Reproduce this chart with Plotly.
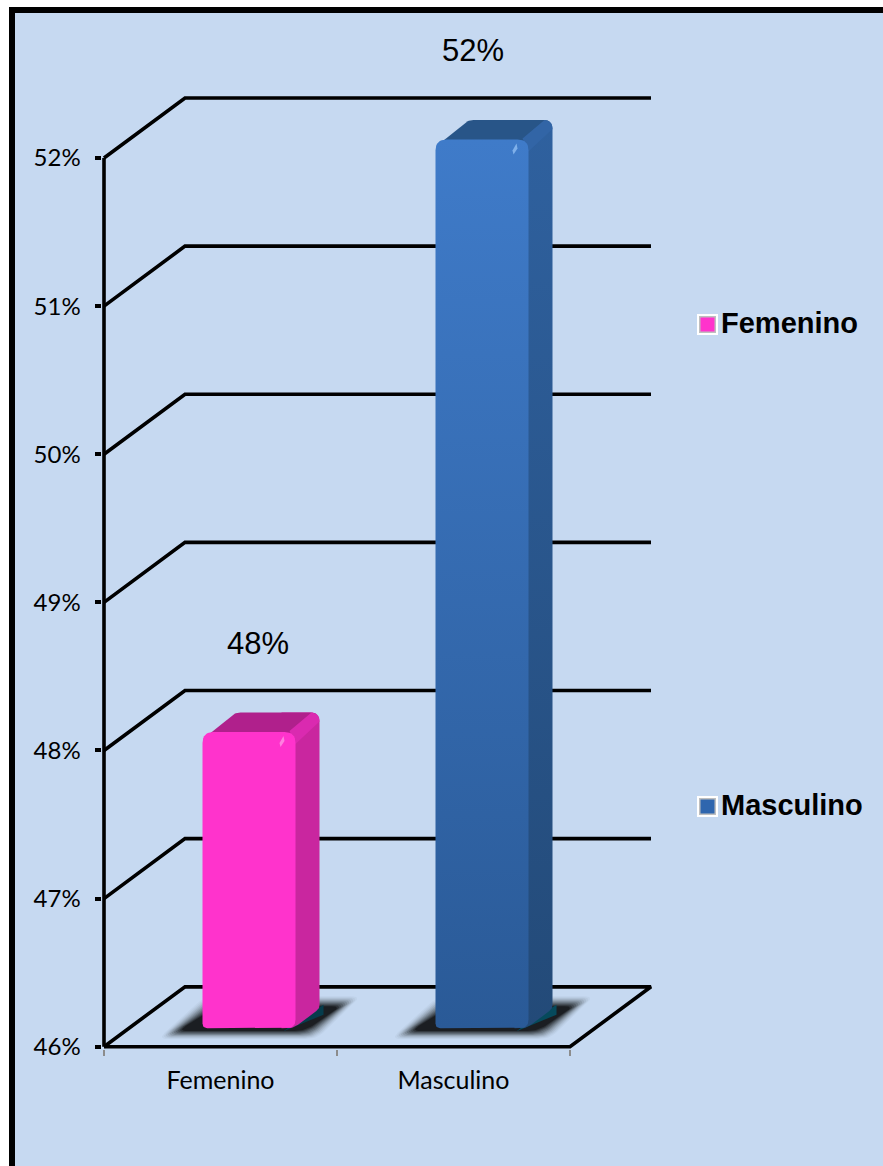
import plotly.graph_objects as go
import numpy as np

# ---------- data ----------
categories = ["Femenino", "Masculino"]
values = [48, 52]
value_labels = ["48%", "52%"]
y_ticks = [46, 47, 48, 49, 50, 51, 52]
y_tick_labels = ["46%", "47%", "48%", "49%", "50%", "51%", "52%"]

# ---------- geometry (pixels on the page) ----------
W, H = 883, 1166
X0, X2 = 104.0, 570.0        # front plane left / right
Y46, Y52 = 1046.7, 158.0     # front plane bottom / top
DEPTH_X, DEPTH_Y = 81.0, 60.0
BAR_DX, BAR_DY = 28.5, 18.5  # front face offset of a bar from the front plane
BAR_W = 93.0
SIDE_X, SIDE_Y = 24.0, 19.5
RADIUS = 11.0
LABEL_DX = [37.0, 19.5]
LABEL_DY = 107.0

PX_PER_CAT = (X2 - X0) / 2
PX_PER_PCT = (Y46 - Y52) / 6
ux = 1 / PX_PER_CAT   # one pixel, in axis units
uy = 1 / PX_PER_PCT
dx = DEPTH_X * ux
dy = DEPTH_Y * uy

# plot area is larger than the chart box, so thick lines are not clipped
PLOT_L, PLOT_R, PLOT_T, PLOT_B = 101.5, 660.0, 20.0, 1049.2
x_low, x_high = -0.5 - (X0 - PLOT_L) * ux, -0.5 + (PLOT_R - X0) * ux
y_low, y_high = 46 - (PLOT_B - Y46) * uy, 46 + (Y46 - PLOT_T) * uy

BG = "#C6D9F1"
INK = "#000000"


def rounded(pts, radii):
    """Polygon with rounded corners. Points are in pixels relative to an anchor."""
    out = []
    n = len(pts)
    for i, p in enumerate(pts):
        p = np.array(p, float)
        r = radii[i]
        a = np.array(pts[i - 1], float)
        b = np.array(pts[(i + 1) % n], float)
        if r <= 0:
            out.append(p)
            continue
        va = (a - p) / np.linalg.norm(a - p)
        vb = (b - p) / np.linalg.norm(b - p)
        s, e = p + va * r, p + vb * r
        for t in np.linspace(0, 1, 9):
            out.append((1 - t) ** 2 * s + 2 * t * (1 - t) * p + t ** 2 * e)
    out.append(out[0])
    return np.array(out)


def poly(cx, val, pts, radii=None):
    """pts are pixel offsets (x right, y up) from the front-plane position of (cx, val)."""
    radii = radii or [0] * len(pts)
    q = rounded(pts, radii)
    return cx + q[:, 0] * ux, val + q[:, 1] * uy


fig = go.Figure()


def line(xs, ys, width=3.6, color=INK):
    fig.add_trace(go.Scatter(x=xs, y=ys, mode="lines", hoverinfo="skip", showlegend=False,
                             line=dict(color=color, width=width, shape="linear")))


def filled(xs, ys, color=None, grad=None):
    kw = dict(fillcolor=color) if color else dict(
        fillgradient=dict(type="vertical", colorscale=grad))
    fig.add_trace(go.Scatter(x=xs, y=ys, mode="lines", fill="toself", hoverinfo="skip",
                             showlegend=False, line=dict(width=0), **kw))


# back wall + left wall gridlines
for t in y_ticks:
    line([-0.5, -0.5 + dx, 1.5 + dx], [t, t + dy, t + dy])
# floor
line([-0.5, 1.5, 1.5 + dx, -0.5 + dx], [46, 46, 46 + dy, 46 + dy])
# vertical axis
line([-0.5, -0.5], [46, 52])

# ---------- shadows ----------
SHADOW_LAYERS = [(12, 0.03), (10, 0.04), (8, 0.06), (6, 0.08), (4, 0.10), (2, 0.12),
                 (0, 0.15), (-2, 0.18), (-4, 0.22), (-6, 0.30), (-8, 0.40)]
for i, cat in enumerate(categories):
    L0 = BAR_DX - BAR_W / 2
    R0 = L0 + BAR_W
    low, up = BAR_DY - 6, BAR_DY + 26
    for grow, alpha in SHADOW_LAYERS:
        sx, sy = poly(i, 46, [
            (L0 - 33 - grow, low - grow * 0.4),
            (R0 + 14 + grow * 0.6, low - grow * 0.4),
            (R0 + 54 + grow, up + grow * 0.5),
            (L0 + 10 - grow * 0.6, up + grow * 0.5),
        ], [10, 10, 10, 10])
        filled(sx, sy, color=f"rgba(0,0,0,{alpha})")

# ---------- bars ----------
styles = [
    dict(front=[[0, "#FF33CC"], [1, "#FF33CC"]], top="#B0208C",
         bevel="#DA2AB0", shine="#FF80E0", base="#063C4C"),
    dict(front=[[0, "#2A5A97"], [1, "#3F7BC9"]], top="#285588",
         bevel="#3265A6", shine="#7FB0EA", base="#064A5C"),
]
side_grad = [
    [[0, "#C9269F"], [1, "#C9269F"]],
    [[0, "#234A78"], [1, "#2F619F"]],
]

for i, (cat, val) in enumerate(zip(categories, values)):
    st = styles[i]
    h = (val - 46) * PX_PER_PCT
    L = BAR_DX - BAR_W / 2
    R = L + BAR_W
    B, T = BAR_DY, BAR_DY + h  # pixel offsets from (i, 46)

    # teal footprint under the side of the bar
    fx, fy = poly(i, 46, [(R - 12, B - 3), (R + SIDE_X + 4, B + SIDE_Y - 6),
                          (R + SIDE_X + 4, B + SIDE_Y + 4), (R, B + 6)])
    filled(fx, fy, color=st["base"])

    # side face
    sx, sy = poly(i, 46, [(R - 14, B), (R - 2, B), (R + SIDE_X, B + SIDE_Y), (R + SIDE_X, T + SIDE_Y),
                          (R - 14, T + SIDE_Y), (R - 14, T)],
                  [0, 6, 4, 9, 0, 0])
    filled(sx, sy, grad=side_grad[i])

    # top face
    tx, ty = poly(i, 46, [(L + 3, T - 5), (L + 33, T + SIDE_Y), (R + SIDE_X, T + SIDE_Y),
                          (R, T - 3)],
                  [0, 5, 9, 0])
    filled(tx, ty, color=st["top"])

    # bevel towards the back right corner
    bx, by = poly(i, 46, [(R - 6, T + 1), (R + SIDE_X - 8, T + SIDE_Y), (R + SIDE_X, T + SIDE_Y),
                          (R + SIDE_X, T + SIDE_Y - 9), (R, T - 12)],
                  [0, 0, 9, 0, 0])
    filled(bx, by, color=st["bevel"])

    # front face
    ffx, ffy = poly(i, 46, [(L, B), (R, B), (R, T), (L, T)], [5, 9, RADIUS, RADIUS])
    filled(ffx, ffy, grad=st["front"])

    # small highlight
    hx, hy = poly(i, 46, [(R - 15, T - 15), (R - 11, T - 9), (R - 12, T - 4), (R - 16, T - 11)])
    filled(hx, hy, color=st["shine"])

# ---------- second x axis carries the category names ----------
fig.add_trace(go.Scatter(x=[0, 1], y=[46, 46], xaxis="x2", mode="markers",
                         marker=dict(opacity=0), hoverinfo="skip", showlegend=False))


def page_rect(x0, y0, x1, y1, color, layer="above"):
    return dict(type="rect", xref="paper", yref="paper", x0=x0 / W, x1=x1 / W,
                y0=1 - y1 / H, y1=1 - y0 / H, line=dict(width=0), fillcolor=color, layer=layer)


shapes = [
    page_rect(9, 7, W, H, INK, "below"),
    page_rect(15, 13, W, H, BG, "below"),
]

# legend (swatches + names)
legend_y = [324.5, 806.5]
legend_fill = ["#FF33CC", "#2F66AE"]
annotations = []
for name, ly, col in zip(categories, legend_y, legend_fill):
    for half, c in [(10.5, "#FFFFFF"), (8.5, "#BFBFBF"), (7, col)]:
        shapes.append(page_rect(707.5 - half, ly - half, 707.5 + half, ly + half, c))
    annotations.append(dict(xref="paper", yref="paper", x=719 / W, y=1 - (ly - 1.5) / H,
                            xanchor="left", yanchor="middle", showarrow=False, text=f"<b>{name}</b>",
                            font=dict(family="Liberation Sans", size=29, color=INK)))

# data labels
for i, (lab, val) in enumerate(zip(value_labels, values)):
    annotations.append(dict(x=i + LABEL_DX[i] * ux, y=val + LABEL_DY * uy, xref="x", yref="y",
                            showarrow=False, text=lab, xanchor="center", yanchor="middle",
                            font=dict(family="Liberation Sans", size=31, color=INK)))

dom_x = [PLOT_L / W, PLOT_R / W]
dom_y = [1 - PLOT_B / H, 1 - PLOT_T / H]

fig.update_layout(
    width=W, height=H,
    margin=dict(l=0, r=0, t=0, b=0, autoexpand=False),
    paper_bgcolor="#FFFFFF",
    plot_bgcolor="rgba(0,0,0,0)",
    showlegend=False,
    shapes=shapes,
    annotations=annotations,
    xaxis=dict(domain=dom_x, range=[x_low, x_high], tickmode="array", tickvals=[-0.5, 0.5, 1.5],
               ticktext=["", "", ""], ticks="outside", ticklen=6, tickwidth=1.5, tickcolor="#8C8C8C",
               showgrid=False, zeroline=False, showline=False, automargin=False),
    xaxis2=dict(domain=dom_x, range=[x_low, x_high], overlaying="x", side="bottom", anchor="y",
                tickmode="array", tickvals=[0, 1], ticktext=categories, ticks="",
                tickfont=dict(family="Lato", size=25, color=INK), ticklabelstandoff=14,
                showgrid=False, zeroline=False, showline=False, automargin=False),
    yaxis=dict(domain=dom_y, range=[y_low, y_high], tickmode="array", tickvals=y_ticks,
               ticktext=y_tick_labels, ticks="outside", ticklen=6, tickwidth=3.5, tickcolor=INK,
               tickfont=dict(family="Lato", size=24, color=INK), ticklabelstandoff=9,
               showgrid=False, zeroline=False, showline=False, automargin=False),
)

fig.write_html("out.html", config={"displayModeBar": False},
               post_script="document.body.style.margin='0';document.documentElement.style.overflow='hidden';")
